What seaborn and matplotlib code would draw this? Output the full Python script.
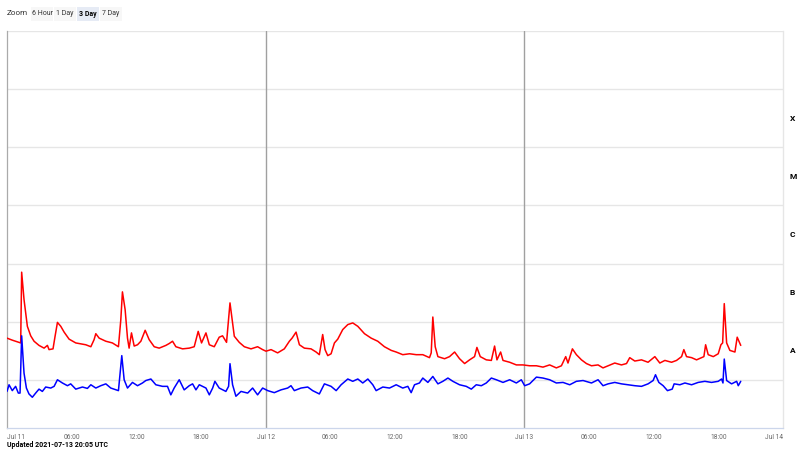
import numpy as np
import pandas as pd
import matplotlib
matplotlib.use("Agg")
import matplotlib.pyplot as plt
import seaborn as sns
from matplotlib.transforms import blended_transform_factory
from matplotlib.patches import Rectangle
from matplotlib.ticker import FixedLocator, MultipleLocator, LogLocator, NullFormatter

sns.set_style("white")
plt.rcParams['font.family'] = ['Roboto', 'DejaVu Sans']

# ---- data: hours since 2021-07-11 00:00 UTC, flux in nW/m^2 (1e-9 W/m^2) ----
hours_long = [0.0, 0.49, 1.11, 1.27, 1.36, 1.58, 1.89, 2.20, 2.51, 2.97, 3.44, 3.75, 3.90, 4.27,
              4.46, 4.68, 4.99, 5.30, 5.76, 6.38, 7.31, 7.78, 8.08, 8.24, 8.55, 9.17, 9.78, 10.34,
              10.56, 10.71, 10.96, 11.18, 11.33, 11.55, 11.80, 12.11, 12.42, 12.82, 13.19, 13.66,
              14.12, 14.74, 15.05, 15.36, 15.67, 16.29, 16.91, 17.37, 17.74, 18.05, 18.46, 18.77,
              19.23, 19.69, 20.00, 20.37, 20.69, 21.09, 21.55, 22.02, 22.64, 23.25, 23.72, 24.03,
              24.50, 25.11, 25.73, 26.20, 26.45, 26.82, 27.13, 27.59, 28.21, 28.68, 28.98, 29.29,
              29.51, 29.76, 30.07, 30.38, 30.69, 31.15, 31.62, 32.08, 32.55, 33.17, 33.79, 34.40,
              35.02, 35.65, 36.11, 36.72, 37.35, 37.97, 38.58, 39.20, 39.36, 39.51, 39.73, 39.98,
              40.60, 41.06, 41.53, 41.99, 42.46, 42.92, 43.38, 43.60, 43.91, 44.47, 44.94, 45.24,
              45.46, 45.80, 46.02, 46.64, 47.26, 47.87, 48.49, 49.12, 49.73, 50.35, 50.97, 51.44,
              51.84, 52.05, 52.46, 52.83, 53.30, 53.76, 54.23, 54.84, 55.30, 55.77, 56.39, 57.01,
              57.48, 57.78, 58.25, 58.87, 59.48, 60.11, 60.57, 61.04, 61.66, 62.12, 62.59, 62.80,
              63.05, 63.52, 63.98, 64.45, 64.66, 64.82, 65.06, 65.53, 65.99, 66.24, 66.40, 66.55,
              66.77, 67.07, 67.54, 67.75, 68.00, 68.08]
flux_long_nw = [52, 48, 44, 43, 709, 239, 83, 57, 46, 39, 35, 39, 33, 34,
                56, 97, 83, 66, 50, 43, 40, 37, 49, 62, 52, 46, 43, 37,
                108, 325, 161, 52, 35, 64, 38, 40, 46, 71, 49, 37,
                35, 39, 42, 46, 37, 34, 35, 37, 68, 43, 64, 40,
                37, 54, 57, 44, 210, 56, 44, 37, 34, 37, 33, 31,
                33, 29, 34, 46, 52, 66, 40, 35, 34, 30, 27, 60,
                33, 26, 28, 43, 50, 73, 89, 95, 83, 62, 52, 46,
                37, 32, 30, 27, 28, 27, 27, 24, 29, 120, 37, 25,
                23, 25, 30, 23, 19, 22, 25, 36, 25, 22, 21.5, 38,
                22, 30, 21.5, 20, 18, 18, 17.4, 17.4, 16.5, 18, 16, 17.4,
                25, 19.4, 34, 27, 22, 19, 17.4, 18, 16, 17.4, 19.4, 18,
                19, 24, 21, 22, 20, 25, 19.4, 21.5, 20, 21.5, 25, 33,
                25, 24, 22, 24, 25, 40, 27, 25, 28, 40, 43, 204,
                43, 32, 30, 54, 42, 39]

hours_short = [0.0, 0.19, 0.49, 0.80, 1.05, 1.21, 1.36, 1.58, 1.80, 2.04, 2.35, 2.66, 2.97, 3.28,
               3.59, 4.06, 4.37, 4.68, 5.14, 5.61, 5.91, 6.38, 7.00, 7.46, 7.78, 8.24, 8.70, 9.17,
               9.63, 10.34, 10.50, 10.65, 10.87, 11.18, 11.64, 12.11, 12.57, 12.88, 13.35, 13.81,
               14.43, 14.89, 15.20, 15.51, 15.98, 16.44, 16.91, 17.22, 17.53, 17.84, 18.46, 18.77,
               19.08, 19.29, 19.69, 20.31, 20.56, 20.69, 20.93, 21.24, 21.71, 22.33, 22.79, 23.25,
               23.72, 24.19, 24.80, 25.42, 26.04, 26.35, 26.66, 27.28, 27.90, 28.36, 28.98, 29.45,
               30.07, 30.54, 31.00, 31.62, 32.08, 32.55, 33.01, 33.48, 33.94, 34.25, 34.87, 35.49,
               36.11, 36.72, 37.19, 37.50, 37.81, 38.27, 38.58, 39.05, 39.51, 39.98, 40.44, 40.91,
               41.37, 41.99, 42.61, 43.08, 43.54, 44.01, 44.47, 44.94, 45.40, 46.02, 46.64, 47.26,
               47.72, 48.03, 48.49, 49.12, 49.73, 50.35, 50.97, 51.59, 52.21, 52.83, 53.45, 54.23,
               54.84, 55.30, 55.77, 56.39, 57.01, 57.63, 58.25, 58.87, 59.48, 59.95, 60.17, 60.48,
               60.88, 61.28, 61.72, 61.90, 62.43, 62.90, 63.52, 64.13, 64.75, 65.37, 65.99, 66.30,
               66.43, 66.55, 66.77, 67.23, 67.70, 67.85, 68.08]
flux_short_nw = [6.3, 8.2, 6.5, 7.7, 5.9, 5.9, 57, 13, 7.2, 5.7, 5.0, 5.9, 6.9, 6.3,
                 7.5, 7.2, 7.7, 10, 8.8, 7.9, 8.5, 6.9, 7.5, 7.1, 8.2, 7.2, 7.9, 8.5,
                 7.2, 6.5, 13, 26, 10, 7.2, 9.0, 7.9, 8.8, 9.7, 10.3, 8.2,
                 7.7, 7.7, 5.5, 7.2, 10, 6.7, 7.9, 8.5, 6.7, 8.2, 7.2, 5.5,
                 7.2, 9.4, 7.2, 6.3, 7.7, 18.9, 8.2, 5.2, 6.3, 5.9, 7.2, 5.5,
                 7.2, 6.5, 6.0, 6.7, 7.2, 7.9, 6.5, 7.2, 7.5, 6.5, 5.7, 8.5,
                 7.7, 6.5, 8.2, 10.3, 9.4, 10.3, 8.8, 10.3, 8.2, 6.5, 7.5, 7.2,
                 8.2, 7.2, 7.7, 6.0, 8.2, 8.8, 10.7, 9.0, 11.4, 8.5, 9.4, 10.7,
                 9.4, 8.2, 7.7, 6.9, 8.2, 7.9, 8.8, 10.7, 10, 9.0, 10, 8.8,
                 10, 7.9, 8.5, 11.1, 10.7, 10, 8.8, 9.0, 8.2, 9.4, 9.7, 8.8,
                 10, 7.9, 8.5, 9.0, 8.5, 8.2, 7.9, 7.7, 8.5, 9.7, 12.2, 9.0,
                 7.9, 6.5, 6.9, 8.5, 8.2, 8.8, 8.2, 9.0, 9.4, 9.0, 9.4, 10.3,
                 8.8, 22.7, 9.7, 8.5, 9.4, 7.9, 9.4]

tick_hours = [0, 6, 12, 18, 24, 30, 36, 42, 48, 54, 60, 66, 72]
tick_labels = ["Jul 11", "06:00", "12:00", "18:00", "Jul 12", "06:00", "12:00", "18:00",
               "Jul 13", "06:00", "12:00", "18:00", "Jul 14"]
day_lines = [24, 48]
class_labels = ["A", "B", "C", "M", "X"]
class_exps = [-8, -7, -6, -5, -4]
zoom_buttons = ["6 Hour", "1 Day", "3 Day", "7 Day"]
updated_text = "Updated 2021-07-13 20:05 UTC"

df_long = pd.DataFrame({"hours": hours_long, "flux": np.array(flux_long_nw) * 1e-9})
df_short = pd.DataFrame({"hours": hours_short, "flux": np.array(flux_short_nw) * 1e-9})

fig = plt.figure(figsize=(8, 4.5), dpi=100)
fig.patch.set_facecolor("white")
ax = fig.add_axes([7 / 800, 22 / 450, 776 / 800, 397 / 450])

sns.lineplot(data=df_long, x="hours", y="flux", color="#ff0000", lw=1.1, ax=ax,
             estimator=None, sort=False, zorder=3)
sns.lineplot(data=df_short, x="hours", y="flux", color="#0000ff", lw=1.1, ax=ax,
             estimator=None, sort=False, zorder=3)

ax.set_yscale("log")
ax.set_ylim(10 ** -8.83, 1e-2)
ax.set_xlim(0, 72)
ax.set_xlabel("")
ax.set_ylabel("")

# y axis
ax.yaxis.set_major_locator(LogLocator(base=10, numticks=20))
ax.yaxis.set_minor_locator(LogLocator(base=10, subs=np.arange(2, 10), numticks=20))
ax.yaxis.set_minor_formatter(NullFormatter())
ax.tick_params(axis="y", which="both", direction="in", labelleft=False, color="#aaaaaa")
ax.tick_params(axis="y", which="major", length=4, width=0.8)
ax.tick_params(axis="y", which="minor", length=2.5, width=0.6)
ax.yaxis.grid(True, which="major", color="#e6e6e6", lw=1)
ax.set_axisbelow(True)

# x axis
ax.xaxis.set_major_locator(FixedLocator(tick_hours))
ax.set_xticklabels(tick_labels)
ax.xaxis.set_minor_locator(MultipleLocator(1))
ax.tick_params(axis="x", which="major", direction="out", length=3, width=0.8, color="#ccd6eb",
               labelsize=4.8, labelcolor="#666666", pad=1.2)
ax.tick_params(axis="x", which="minor", direction="out", length=2, width=0.6, color="#ccd6eb")
ax.xaxis.grid(False)
xt = ax.get_xticklabels()
xt[0].set_horizontalalignment("left")
xt[-1].set_horizontalalignment("right")

for d in day_lines:
    ax.axvline(d, color="#a0a0a0", lw=1, zorder=2)

ax.spines["top"].set_visible(False)
ax.spines["left"].set_color("#aaaaaa")
ax.spines["left"].set_linewidth(0.9)
ax.spines["bottom"].set_color("#ccd6eb")
ax.spines["bottom"].set_linewidth(0.9)
ax.spines["right"].set_color("#e6e6e6")
ax.spines["right"].set_linewidth(1)

trans = blended_transform_factory(ax.transAxes, ax.transData)
for lab, e in zip(class_labels, class_exps):
    ax.text(1.009, 10 ** (e + 0.5), lab, transform=trans, fontsize=6, fontweight="bold",
            ha="left", va="center", color="#000000")

# zoom buttons
fig.text(7 / 800, 1 - 13 / 450, "Zoom", fontsize=5.8, color="#333333", va="center", ha="left")
btn_x = [31, 54, 77, 100]
btn_w = 22
for lab, bx in zip(zoom_buttons, btn_x):
    sel = (lab == "3 Day")
    fig.patches.append(Rectangle((bx / 800, 1 - 21 / 450), btn_w / 800, 14 / 450,
                                 transform=fig.transFigure, facecolor="#e6ebf5" if sel else "#f7f7f7",
                                 edgecolor="none", zorder=0))
    fig.text((bx + btn_w / 2) / 800, 1 - 13.5 / 450, lab, fontsize=5, color="#000000" if sel else "#333333",
             fontweight="bold" if sel else "normal", ha="center", va="center")

fig.text(7 / 800, 1 - 445 / 450, updated_text, fontsize=5, fontweight="bold", color="#000000",
         ha="left", va="center")

fig.savefig("out.png", dpi=100, facecolor="white")
